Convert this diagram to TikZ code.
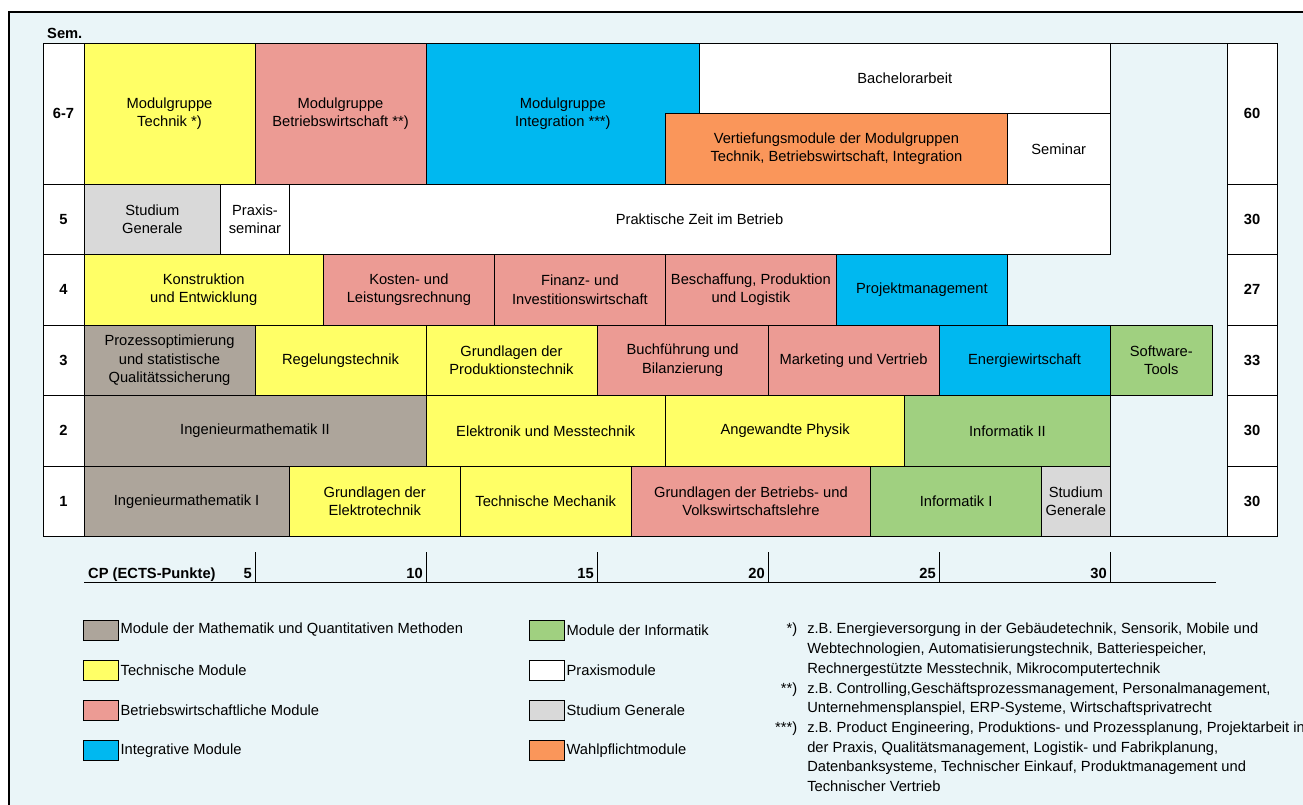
\documentclass[tikz,border=0pt]{standalone}
\usepackage{fontspec}
\setmainfont{Liberation Sans}
\usetikzlibrary{positioning}

\definecolor{hgrund}{RGB}{234,245,248}
\definecolor{techgelb}{RGB}{255,255,102}
\definecolor{bwlrot}{RGB}{236,155,148}
\definecolor{intblau}{RGB}{0,184,240}
\definecolor{mathgrau}{RGB}{173,165,155}
\definecolor{infogruen}{RGB}{160,208,128}
\definecolor{sggrau}{RGB}{217,217,217}
\definecolor{wahlorange}{RGB}{250,150,90}

\newcommand\grund{\fontsize{14.7}{18.3}\selectfont}
% name, colour, first CP, CP, top, height, text
\newcommand\modul[7]{\node[modul,fill=#2,minimum width={#4*34.2pt},minimum height={#6pt}] (#1) at ({84+#3*34.2},#5) {#7};}

\begin{document}
\begin{tikzpicture}[x=1pt,y=-1pt,
    every node/.style={font=\grund},
    modul/.style={draw,line width=0.9pt,inner sep=0pt,outer sep=0pt,align=center,anchor=north west},
    semzelle/.style={modul,fill=white,minimum width=41pt,minimum height=70.5pt,font=\grund\bfseries},
    cpzelle/.style={modul,fill=white,minimum width=50pt,minimum height=70.5pt,font=\grund\bfseries},
    legende/.style={draw,line width=0.9pt,minimum width=35pt,minimum height=20pt,inner sep=0pt},
    legtext/.style={inner sep=1pt},
    fett/.style={font=\grund\bfseries,inner sep=0pt}]

    \useasboundingbox (0,0) rectangle (1303,805);
    \draw[line width=1.2pt,fill=hgrund] (9,12) rectangle (1340,840);

    \node[fett,anchor=base west] (sem) at (47,39) {Sem.};

    \node[semzelle,minimum height=141pt] (s67) at (43,43) {6-7};
    \node[semzelle,below=0pt of s67] (s5) {5};
    \node[semzelle,below=0pt of s5] (s4) {4};
    \node[semzelle,below=0pt of s4] (s3) {3};
    \node[semzelle,below=0pt of s3] (s2) {2};
    \node[semzelle,below=0pt of s2] (s1) {1};

    \node[cpzelle,minimum height=141pt] (c67) at (1227,43) {60};
    \node[cpzelle,below=0pt of c67] (c5) {30};
    \node[cpzelle,below=0pt of c5] (c4) {27};
    \node[cpzelle,below=0pt of c4] (c3) {33};
    \node[cpzelle,below=0pt of c3] (c2) {30};
    \node[cpzelle,below=0pt of c2] (c1) {30};

    \modul{technik}{techgelb}{0}{5}{43}{141}{Modulgruppe\\Technik *)}
    \modul{bwl}{bwlrot}{5}{5}{43}{141}{Modulgruppe\\Betriebswirtschaft **)}
    \modul{integ}{intblau}{10}{8}{43}{141}{Modulgruppe\\Integration ***)}
    \modul{bachelor}{white}{18}{12}{43}{70.5}{Bachelorarbeit}
    \modul{vertief}{wahlorange}{17}{10}{113.5}{70.5}{Vertiefungsmodule der Modulgruppen\\Technik, Betriebswirtschaft, Integration}
    \modul{seminar}{white}{27}{3}{113.5}{70.5}{Seminar}

    \modul{sg5}{sggrau}{0}{4}{184}{70.5}{Studium\\Generale}
    \modul{praxsem}{white}{4}{2}{184}{70.5}{Praxis-\\seminar}
    \modul{praxis}{white}{6}{24}{184}{70.5}{Praktische Zeit im Betrieb}

    \modul{konstr}{techgelb}{0}{7}{254.5}{70.5}{Konstruktion\\und Entwicklung}
    \modul{kosten}{bwlrot}{7}{5}{254.5}{70.5}{Kosten- und\\Leistungsrechnung}
    \modul{finanz}{bwlrot}{12}{5}{254.5}{70.5}{Finanz- und\\Investitionswirtschaft}
    \modul{beschaff}{bwlrot}{17}{5}{254.5}{70.5}{Beschaffung, Produktion\\und Logistik}
    \modul{projekt}{intblau}{22}{5}{254.5}{70.5}{Projektmanagement}

    \modul{prozess}{mathgrau}{0}{5}{325}{70.5}{Prozessoptimierung\\und statistische\\Qualitätssicherung}
    \modul{regel}{techgelb}{5}{5}{325}{70.5}{Regelungstechnik}
    \modul{prodtech}{techgelb}{10}{5}{325}{70.5}{Grundlagen der\\Produktionstechnik}
    \modul{buchf}{bwlrot}{15}{5}{325}{70.5}{Buchführung und\\Bilanzierung}
    \modul{marketing}{bwlrot}{20}{5}{325}{70.5}{Marketing und Vertrieb}
    \modul{energie}{intblau}{25}{5}{325}{70.5}{Energiewirtschaft}
    \modul{software}{infogruen}{30}{3}{325}{70.5}{Software-\\Tools}

    \modul{ingmath2}{mathgrau}{0}{10}{395.5}{70.5}{Ingenieurmathematik II}
    \modul{elektronik}{techgelb}{10}{7}{395.5}{70.5}{Elektronik und Messtechnik}
    \modul{physik}{techgelb}{17}{7}{395.5}{70.5}{Angewandte Physik}
    \modul{info2}{infogruen}{24}{6}{395.5}{70.5}{Informatik II}

    \modul{ingmath1}{mathgrau}{0}{6}{466}{70.5}{Ingenieurmathematik I}
    \modul{etechnik}{techgelb}{6}{5}{466}{70.5}{Grundlagen der\\Elektrotechnik}
    \modul{mechanik}{techgelb}{11}{5}{466}{70.5}{Technische Mechanik}
    \modul{bwlgrund}{bwlrot}{16}{7}{466}{70.5}{Grundlagen der Betriebs- und\\Volkswirtschaftslehre}
    \modul{info1}{infogruen}{23}{5}{466}{70.5}{Informatik I}
    \modul{sg1}{sggrau}{28}{2}{466}{70.5}{Studium\\Generale}

    \draw[line width=0.9pt] (s67.north west) -- (c67.north east);
    \draw[line width=0.9pt] (s1.south west) -- (c1.south east);

    \node[fett,anchor=base west] (cplabel) at (88,578) {CP (ECTS-Punkte)};
    \draw[line width=0.9pt] (84,582) -- (1216,582);
    \foreach \k in {5,10,...,30} {
        \draw[line width=0.9pt] ({84+\k*34.2},552) -- ({84+\k*34.2},582);
        \node[fett,anchor=base east] (cp\k) at ({81+\k*34.2},578) {\k};
    }

    \node[legende,fill=mathgrau] (lmath) at (100.5,630) {};
    \node[legende,fill=techgelb,below=19.3pt of lmath] (ltech) {};
    \node[legende,fill=bwlrot,below=19.3pt of ltech] (lbwl) {};
    \node[legende,fill=intblau,below=19.3pt of lbwl] (linteg) {};
    \node[legende,fill=infogruen] (linfo) at (546.5,630) {};
    \node[legende,fill=white,below=19.3pt of linfo] (lpraxis) {};
    \node[legende,fill=sggrau,below=19.3pt of lpraxis] (lsg) {};
    \node[legende,fill=wahlorange,below=19.3pt of lsg] (lwahl) {};

    \node[legtext,right=1pt of lmath] {Module der Mathematik und Quantitativen Methoden};
    \node[legtext,right=1pt of ltech] {Technische Module};
    \node[legtext,right=1pt of lbwl] {Betriebswirtschaftliche Module};
    \node[legtext,right=1pt of linteg] {Integrative Module};
    \node[legtext,right=1pt of linfo] {Module der Informatik};
    \node[legtext,right=1pt of lpraxis] {Praxismodule};
    \node[legtext,right=1pt of lsg] {Studium Generale};
    \node[legtext,right=1pt of lwahl] {Wahlpflichtmodule};

    \node[anchor=north west,inner sep=0pt,font=\fontsize{14.7}{19.7}\selectfont] (fussnoten) at (775,620) {%
        \begin{tabular}{@{}r@{\hspace{10pt}}l@{}}
        {*)} & z.B. Energieversorgung in der Gebäudetechnik, Sensorik, Mobile und\\
             & Webtechnologien, Automatisierungstechnik, Batteriespeicher,\\
             & Rechnergestützte Messtechnik, Mikrocomputertechnik\\
        {**)} & z.B. Controlling,Geschäftsprozessmanagement, Personalmanagement,\\
              & Unternehmensplanspiel, ERP-Systeme, Wirtschaftsprivatrecht\\
        {***)} & z.B. Product Engineering, Produktions- und Prozessplanung, Projektarbeit in\\
               & der Praxis, Qualitätsmanagement, Logistik- und Fabrikplanung,\\
               & Datenbanksysteme, Technischer Einkauf, Produktmanagement und\\
               & Technischer Vertrieb
        \end{tabular}};
\end{tikzpicture}
\end{document}
